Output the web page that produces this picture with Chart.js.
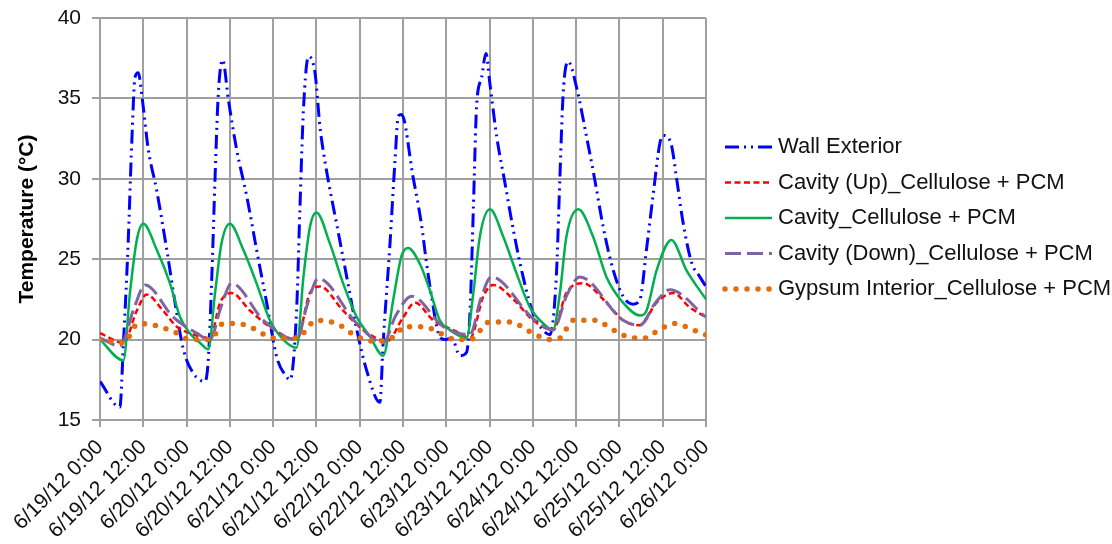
<!DOCTYPE html>
<html>
<head>
<meta charset="utf-8">
<script src="https://cdn.jsdelivr.net/npm/chart.js@4/dist/chart.umd.min.js"></script>
<style>
  html, body { margin: 0; padding: 0; background: #fff; }
  #wrap { width: 1112px; height: 544px; }
</style>
</head>
<body>
<div id="wrap"><canvas id="tempChart" width="1112" height="544"></canvas></div>
<script>
// Tick labels, one every 12 hours from 6/19/12 0:00
const tickLabels = [
    '6/19/12 0:00', '6/19/12 12:00', '6/20/12 0:00', '6/20/12 12:00',
    '6/21/12 0:00', '6/21/12 12:00', '6/22/12 0:00', '6/22/12 12:00',
    '6/23/12 0:00', '6/23/12 12:00', '6/24/12 0:00', '6/24/12 12:00',
    '6/25/12 0:00', '6/25/12 12:00', '6/26/12 0:00'
];

// Wall Exterior (hours since 6/19 0:00, temperature in °C)
const wallExtHours = [0, 5.5, 6.5, 7.8, 8.8, 9.7, 10.6, 11.7, 13.4, 15.7, 18.5, 20.8, 23.1, 25.9, 29.1,
    30, 31, 31.9, 32.8, 34, 35.6, 37.9, 40.7, 43.4, 46.2, 49, 51.7, 52.7,
    54.5, 55.4, 56.4, 57.8, 59.6, 61, 62.8, 65.6, 68.4, 71.2, 73.9, 77.6,
    78.5, 80.4, 81.8, 82.7, 83.6, 86.8, 89.1, 90.5, 91.9, 93.8, 95.6, 97.5, 99.8, 101.6,
    102.6, 103.5, 104.4, 105.8, 107, 108.1, 110, 112.3, 114.6, 117.3, 120.1, 122.8, 124.7,
    126.5, 127.5, 128.4, 129.8, 132.1, 134.9, 137.2, 139.5, 142.3, 145, 147.8, 149.7,
    151.5, 153.4, 155.2, 156.2, 158.4, 159.8, 161.7, 164, 166.3, 168];
const wallExtTemps = [17.4, 15.8, 19.8, 26.0, 32.2, 36.3, 36.6, 35.0, 31.8, 29.3, 25.6, 22.3, 19.4, 17.9, 17.4,
    18.7, 23.9, 30.1, 35.3, 37.4, 34.9, 31.8, 28.9, 25.6, 22.3, 18.9, 17.7, 17.5,
    21.8, 28.0, 34.3, 37.6, 36.6, 33.2, 30.5, 27.2, 23.9, 20.6, 18.1, 16.1,
    19.8, 26.0, 31.2, 33.9, 34.0, 30.1, 27.2, 24.8, 22.7, 20.4, 20.0, 20.1, 19.0, 19.2,
    21.8, 28.1, 34.5, 36.3, 37.8, 35.9, 32.6, 29.7, 26.8, 23.9, 21.6, 20.6, 20.3,
    23.9, 30.1, 35.3, 37.3, 35.7, 32.6, 29.9, 27.0, 24.3, 22.7, 22.2, 22.5,
    25.6, 29.1, 32.2, 32.7, 32.1, 30.1, 27.2, 24.8, 23.9, 23.3];

// Cavity (Up)_Cellulose + PCM
const cavityUpHours = [0, 6.5, 10.2, 12.9, 17.5, 21.3, 24.9, 30.5, 33.3, 36.5, 41.6, 47.1, 54.5,
    58.2, 61, 67.4, 73, 79.5, 84.1, 87.3, 92.4, 98.9, 102.6, 106.3, 109, 114.6, 120.1, 125.6,
    129.3, 133.9, 140.4, 145, 149.7, 154.3, 158.9, 163.5, 168];
const cavityUpTemps = [20.4, 19.8, 21.8, 22.8, 21.8, 20.8, 20.4, 20.1, 22.3, 22.9, 21.8, 20.8, 20.0,
    22.9, 23.3, 21.8, 20.6, 19.9, 21.4, 22.3, 21.2, 20.5, 20.1, 22.7, 23.4, 22.5, 21.2, 20.6,
    22.9, 23.5, 22.3, 21.2, 20.9, 22.3, 22.9, 22.0, 21.4];

// Cavity_Cellulose + PCM
const cavityHours = [0, 6.5, 8.3, 10.2, 12, 15.7, 19.4, 22.2, 24.9, 27.7, 30, 31.9, 33.7, 36,
    39.7, 43.4, 47.1, 50.8, 54.5, 56.4, 58.2, 60, 63.7, 67.4, 71.2, 74.8, 78.5, 81.3, 83.6, 85.4,
    88.7, 91.4, 94.2, 97, 101.6, 103.5, 105.3, 108.1, 111.8, 115.5, 119.2, 122.9, 125.6,
    127.5, 129.3, 132.6, 136.7, 140.4, 145, 149.7, 151.5, 154.3, 158.4, 162.6, 168];
const cavityTemps = [20.0, 18.7, 22.9, 26.2, 27.2, 25.6, 23.5, 21.4, 20.4, 19.8, 19.4, 22.9, 26.0, 27.2,
    25.6, 23.5, 21.2, 20.0, 19.5, 23.9, 27.0, 27.9, 26.0, 23.5, 21.4, 20.2, 19.0, 22.5, 25.2, 25.7,
    24.7, 23.1, 21.2, 20.6, 20.1, 22.9, 26.4, 28.1, 26.4, 24.1, 22.0, 21.0, 20.6,
    22.9, 26.4, 28.1, 26.4, 23.9, 22.3, 21.5, 21.8, 24.3, 26.2, 24.3, 22.5];

// Cavity (Down)_Cellulose + PCM
const cavityDownHours = [0, 5.5, 9.5, 12.5, 20.3, 26.8, 30.5, 33.5, 36.5, 45.3, 54.5, 57.5, 60.5,
    71.2, 78.5, 82, 86.4, 95.2, 102.6, 105.5, 108.5, 120.1, 125.6, 129.5, 133,
    145, 149.7, 154, 158, 168];
const cavityDownTemps = [20.1, 19.6, 22.0, 23.4, 21.4, 20.4, 20.0, 22.0, 23.5, 21.2, 20.0, 22.2, 23.8,
    21.0, 19.8, 21.5, 22.7, 20.8, 20.3, 22.5, 23.9, 21.3, 20.6, 22.8, 23.9,
    21.2, 20.9, 22.3, 23.1, 21.4];

// Gypsum Interior_Cellulose + PCM
const gypsumHours = [0, 6.5, 10.6, 15, 21.3, 24.9, 30.5, 34.2, 38, 42.5, 48, 54.5, 60, 65.6, 71.2,
    76, 82.2, 84.1, 89.6, 95.2, 98.4, 102.6, 108.1, 113.7, 119.2, 124.7, 127.5, 131.2, 137.2,
    142.3, 147.8, 151.5, 154.3, 159.4, 164.4, 168];
const gypsumTemps = [20.0, 19.8, 21.0, 20.9, 20.4, 20.0, 20.0, 21.0, 21.0, 20.7, 20.1, 20.1, 21.2, 21.0, 20.2,
    19.9, 20.3, 20.8, 20.8, 20.3, 20.0, 20.0, 21.1, 21.1, 20.5, 20.0, 20.1, 21.2, 21.2,
    20.6, 20.1, 20.1, 20.5, 21.0, 20.6, 20.3];

const FONT = "'Liberation Sans', Arial, sans-serif";

function toPoints(hours, temps) {
    return hours.map((h, i) => ({ x: h, y: temps[i] }));
}

// Legend on the right, drawn by hand so the line samples keep their dash style
const sideLegend = {
    id: 'sideLegend',
    afterDraw(chart) {
        const ctx = chart.ctx;
        const startY = 147;
        const rowGap = 35.5;
        ctx.save();
        chart.data.datasets.forEach((ds, i) => {
            const y = startY + i * rowGap;
            ctx.beginPath();
            ctx.strokeStyle = ds.borderColor;
            ctx.lineWidth = ds.borderWidth;
            ctx.lineCap = ds.borderCapStyle || 'butt';
            ctx.setLineDash(ds.borderDash || []);
            ctx.moveTo(725, y);
            ctx.lineTo(772, y);
            ctx.stroke();
            ctx.setLineDash([]);
            ctx.fillStyle = '#111';
            ctx.font = '22px ' + FONT;
            ctx.textBaseline = 'middle';
            ctx.textAlign = 'left';
            ctx.fillText(ds.label, 778, y);
        });
        ctx.restore();
    }
};

let tempChart;

function initializeChart() {
    const canvas = document.getElementById('tempChart');
    if (!canvas) {
        console.error("Canvas element with id 'tempChart' not found.");
        return;
    }
    const ctx = canvas.getContext('2d');
    tempChart = new Chart(ctx, {
        type: 'line',
        data: {
            datasets: [
                {
                    label: 'Wall Exterior',
                    data: toPoints(wallExtHours, wallExtTemps),
                    borderColor: '#0000FF',
                    borderWidth: 3,
                    borderDash: [14, 5, 2, 5, 2, 5],
                    order: 4
                },
                {
                    label: 'Cavity (Up)_Cellulose + PCM',
                    data: toPoints(cavityUpHours, cavityUpTemps),
                    borderColor: '#FF0000',
                    borderWidth: 2.5,
                    borderDash: [6, 3.5],
                    order: 3
                },
                {
                    label: 'Cavity_Cellulose + PCM',
                    data: toPoints(cavityHours, cavityTemps),
                    borderColor: '#00B050',
                    borderWidth: 2.5,
                    order: 2
                },
                {
                    label: 'Cavity (Down)_Cellulose + PCM',
                    data: toPoints(cavityDownHours, cavityDownTemps),
                    borderColor: '#8064A2',
                    borderWidth: 3,
                    borderDash: [16, 6],
                    order: 1
                },
                {
                    label: 'Gypsum Interior_Cellulose + PCM',
                    data: toPoints(gypsumHours, gypsumTemps),
                    borderColor: '#E46C0A',
                    borderWidth: 5.5,
                    borderDash: [0, 11],
                    borderCapStyle: 'round',
                    order: 0
                }
            ]
        },
        options: {
            responsive: false,
            animation: false,
            layout: { padding: { left: 0, right: 406, top: 18, bottom: 0 } },
            elements: {
                point: { radius: 0 },
                line: { cubicInterpolationMode: 'monotone', fill: false }
            },
            plugins: {
                legend: { display: false },
                tooltip: { enabled: false }
            },
            scales: {
                x: {
                    type: 'linear',
                    min: 0,
                    max: 168,
                    afterFit: scale => { scale.height = 124; },
                    ticks: {
                        stepSize: 12,
                        autoSkip: false,
                        maxRotation: 45,
                        minRotation: 45,
                        padding: 8,
                        color: '#111',
                        font: { family: FONT, size: 21 },
                        callback: value => tickLabels[Math.round(value / 12)]
                    },
                    grid: { color: '#a0a0a0', lineWidth: 2, tickLength: 7 },
                    border: { color: '#a0a0a0', width: 2 }
                },
                y: {
                    min: 15,
                    max: 40,
                    afterFit: scale => { scale.width = 100; },
                    ticks: {
                        stepSize: 5,
                        padding: 11,
                        color: '#111',
                        // small lineHeight keeps the top label from pushing the plot down
                        font: { family: FONT, size: 21, lineHeight: 0.6 }
                    },
                    grid: { color: '#a0a0a0', lineWidth: 2, tickLength: 8 },
                    border: { color: '#a0a0a0', width: 2 },
                    title: {
                        display: true,
                        text: 'Temperature (°C)',
                        color: '#000',
                        padding: { top: 15, bottom: 0 },
                        font: { family: FONT, size: 21, weight: 'bold' }
                    }
                }
            }
        },
        plugins: [sideLegend]
    });
}

document.addEventListener("DOMContentLoaded", () => {
    initializeChart();
});
</script>
</body>
</html>
